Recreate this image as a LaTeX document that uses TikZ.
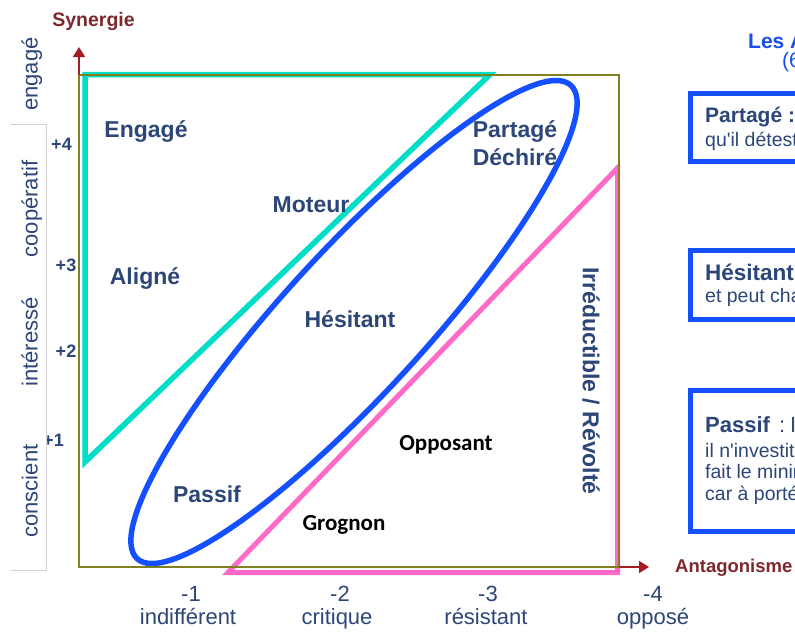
\documentclass[tikz,border=0pt]{standalone}
\usepackage{fontspec}
\setmainfont{Liberation Sans}
\newfontfamily\rawsans{Liberation Sans}[Ligatures=TeXOff]
\newfontfamily\calib{Carlito}
\usetikzlibrary{arrows.meta}
\definecolor{txtblue}{RGB}{44,70,120}
\definecolor{axred}{RGB}{125,40,45}
\definecolor{arrred}{RGB}{165,30,35}
\definecolor{olive2}{RGB}{128,128,30}
\definecolor{teal2}{RGB}{0,222,200}
\definecolor{ellblue}{RGB}{20,80,255}
\definecolor{pink2}{RGB}{255,105,200}
\definecolor{titleblue}{RGB}{25,80,235}
\begin{document}
\begin{tikzpicture}[x=1pt,y=-1pt,
  lbl/.style={font=\fontsize{23}{27}\selectfont\bfseries, text=txtblue, inner sep=0pt, anchor=base},
  ylab/.style={font=\fontsize{22}{26}\selectfont, text=txtblue, rotate=90, anchor=base, inner sep=0pt},
  tick/.style={font=\fontsize{22}{26}\selectfont, text=txtblue, anchor=base, inner sep=0pt},
  num/.style={font=\fontsize{18}{22}\selectfont\bfseries, text=txtblue, inner sep=0pt, anchor=base},
  axlab/.style={font=\fontsize{19.5}{23}\selectfont\bfseries, text=axred, inner sep=0pt},
  cal/.style={font=\fontsize{23}{27}\selectfont\calib\bfseries, text=black, inner sep=0pt, anchor=base},
  infobox/.style={draw=ellblue, line width=5pt},
  boxhead/.style={font=\fontsize{21}{25}\selectfont\rawsans, text=txtblue, anchor=base west, inner sep=0pt},
  boxtxt/.style={font=\fontsize{19.5}{23}\selectfont\rawsans, text=txtblue, anchor=base west, inner sep=0pt},
  axisarrow/.style={draw=arrred, line width=1.8pt, -{Triangle[length=10pt,width=12pt]}}
]
\clip (0,0) rectangle (795,633);
\fill[white] (0,0) rectangle (795,633);

% numbers on the synergy scale
\node[num] (p4) at (61.5,150) {+4};
\node[num] (p3) at (66,271) {+3};
\node[num] (p2) at (66,357) {+2};
\node[num] (p1) at (53.5,446) {+1};

% left label column
\fill[white] (11,124) rectangle (46,570);
\draw[black!18, line width=1pt] (11,124) -- (46,124) -- (46,570) -- (11,570);
\node[ylab] (yengage) at (37.5,74) {engagé};
\node[ylab] (ycoop) at (37.5,209) {coopératif};
\node[ylab] (yinter) at (37.5,342) {intéressé};
\node[ylab] (ycons) at (37.5,491) {conscient};

% zones
\draw[teal2, line width=5.5pt, line join=miter] (85,74.5) -- (490,74.5) -- (85,462) -- cycle;
\draw[ellblue, line width=5.5pt, rotate around={47.5:(354,322)}] (354,322) ellipse [x radius=321pt, y radius=71pt];
\draw[pink2, line width=5pt, line join=miter] (228,572.5) -- (617.5,572.5) -- (617.5,168) -- cycle;

% frame and axes
\draw[olive2, line width=2pt] (79,75) rectangle (619,567);
\coordinate (ytail) at (79,75);
\coordinate (yhead) at (79,47);
\coordinate (xtail) at (619,567);
\coordinate (xhead) at (649,567);
\draw[axisarrow] (ytail) -- (yhead);
\draw[axisarrow] (xtail) -- (xhead);
\node[axlab, anchor=base] (syn) at (93.5,26) {Synergie};
\node[axlab, anchor=base west, font=\fontsize{18.5}{22}\selectfont\bfseries] (ant) at (675,572) {Antagonisme};

% zone labels
\node[lbl] (lengage) at (146,137) {Engagé};
\node[lbl] (lmoteur) at (311,212) {Moteur};
\node[lbl] (lpart) at (515,137) {Partagé};
\node[lbl] (ldech) at (515,165) {Déchiré};
\node[lbl] (laligne) at (145,284) {Aligné};
\node[lbl] (lhesit) at (350,327) {Hésitant};
\node[lbl] (lpassif) at (207,502) {Passif};
\node[lbl, anchor=center, rotate=-90] (lirred) at (591,381) {Irréductible / Révolté};
\node[cal] (lopp) at (446,450) {Opposant};
\node[cal] (lgrog) at (344,530) {Grognon};

% antagonism scale
\node[tick] (t1) at (191,601) {-1};
\node[tick] (w1) at (188,624) {indifférent};
\node[tick] (t2) at (340,601) {-2};
\node[tick] (w2) at (337,624) {critique};
\node[tick] (t3) at (488,601) {-3};
\node[tick] (w3) at (486,624) {résistant};
\node[tick] (t4) at (653,601) {-4};
\node[tick] (w4) at (653,624) {opposé};

% right panel
\node[font=\fontsize{21}{25}\selectfont\bfseries, text=titleblue, anchor=base west, inner sep=0pt] (title) at (748,48) {Les Acteurs};
\node[font=\fontsize{21}{25}\selectfont, text=titleblue, anchor=base west, inner sep=0pt] (sub) at (782,67) {(6 profils)};

\draw[infobox] (690,93) rectangle (860,161);
\node[boxhead] (b1h) at (705,122) {\textbf{Partagé :}};
\node[boxtxt] (b1t) at (705,146) {qu'il déteste};

\draw[infobox] (690,250) rectangle (860,319);
\node[boxhead, font=\fontsize{22.5}{26}\selectfont\rawsans] (b2h) at (705,280) {\textbf{Hésitant} :};
\node[boxtxt] (b2t) at (705,302) {et peut changer};

\draw[infobox] (690,390) rectangle (860,531);
\node[boxhead, font=\fontsize{22}{26}\selectfont\rawsans] (b3h) at (705,432) {\textbf{Passif}\hspace{9pt}:\hspace{5pt}Il};
\node[boxtxt] (b3a) at (705,457) {il n'investit pas};
\node[boxtxt] (b3b) at (705,478.5) {fait le minimum};
\node[boxtxt] (b3c) at (705,500) {car à portée};
\end{tikzpicture}
\end{document}
